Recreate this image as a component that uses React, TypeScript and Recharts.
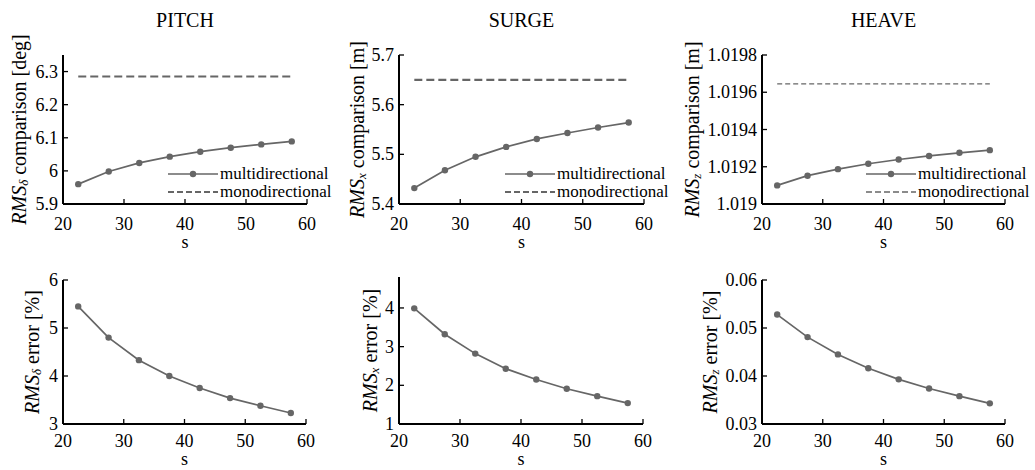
import React from "react";
import { LineChart, Line, XAxis, YAxis, Legend } from "recharts";

// wave spreading parameter s
const sValues = [22.5, 27.5, 32.5, 37.5, 42.5, 47.5, 52.5, 57.5];
const xTicks = [20, 30, 40, 50, 60];
const seriesNames = ["multidirectional", "monodirectional"];
const titles = ["PITCH", "SURGE", "HEAVE"];

// RMS comparison (top row)
const pitchMulti = [5.96, 5.998, 6.024, 6.043, 6.058, 6.07, 6.08, 6.089];
const pitchMono = [6.285, 6.285, 6.285, 6.285, 6.285, 6.285, 6.285, 6.285];
const surgeMulti = [5.432, 5.468, 5.495, 5.515, 5.531, 5.543, 5.554, 5.564];
const surgeMono = [5.65, 5.65, 5.65, 5.65, 5.65, 5.65, 5.65, 5.65];
const heaveMulti = [1.0191, 1.019152, 1.019187, 1.019216, 1.019239, 1.019258, 1.019275, 1.019289];
const heaveMono = [1.019645, 1.019645, 1.019645, 1.019645, 1.019645, 1.019645, 1.019645, 1.019645];

// RMS error in % (bottom row)
const pitchError = [5.45, 4.8, 4.33, 4.0, 3.75, 3.54, 3.38, 3.23];
const surgeError = [3.99, 3.32, 2.82, 2.43, 2.15, 1.91, 1.72, 1.54];
const heaveError = [0.0528, 0.0481, 0.0445, 0.0416, 0.0393, 0.0374, 0.0358, 0.0343];

const pitchTicks = [5.9, 6, 6.1, 6.2, 6.3];
const surgeTicks = [5.4, 5.5, 5.6, 5.7];
const heaveTicks = [1.019, 1.0192, 1.0194, 1.0196, 1.0198];
const pitchErrTicks = [3, 4, 5, 6];
const surgeErrTicks = [1, 2, 3, 4];
const heaveErrTicks = [0.03, 0.04, 0.05, 0.06];

const FONT = "Liberation Serif, DejaVu Serif, serif";
const GRAY = "#666";
const INK = "#000";
const TICK_GAP = 5;
const LEG_TOP = 165;

function YTick(props: any) {
  const { x, y, payload } = props;
  const ax = x + TICK_GAP;
  return (
    <g>
      <line x1={ax} x2={ax + 5} y1={y} y2={y} stroke={INK} strokeWidth={1.3} />
      <text x={x} y={y} textAnchor="end" dominantBaseline="central" style={{ fontFamily: FONT }} fontSize={18} fill={INK}>
        {payload.value}
      </text>
    </g>
  );
}

function XTick(props: any) {
  const { x, y, payload, gap } = props;
  return (
    <g>
      <line x1={x} x2={x} y1={y} y2={y - 5} stroke={INK} strokeWidth={1.3} />
      <text x={x} y={y + gap} textAnchor="middle" dominantBaseline="central" style={{ fontFamily: FONT }} fontSize={18} fill={INK}>
        {payload.value}
      </text>
    </g>
  );
}

function XTitle(props: any) {
  const { viewBox, dy } = props;
  return (
    <text x={viewBox.x + viewBox.width / 2} y={viewBox.y + dy} textAnchor="middle" dominantBaseline="central" style={{ fontFamily: FONT }} fontSize={18} fill={INK}>
      s
    </text>
  );
}

function YTitle(props: any) {
  const { viewBox, cx, sub, rest } = props;
  const cy = viewBox.y + viewBox.height / 2;
  return (
    <text
      transform={`rotate(-90 ${cx} ${cy})`}
      x={cx}
      y={cy}
      textAnchor="middle"
      dominantBaseline="central"
      style={{ fontFamily: FONT }}
      fontSize={20}
      fill={INK}
    >
      <tspan fontStyle="italic">RMS</tspan>
      <tspan fontStyle="italic" fontSize={13} dy={4}>{sub}</tspan>
      <tspan dy={-4}>{" " + rest}</tspan>
    </text>
  );
}

function LegendBox({ thin }: { thin: boolean }) {
  return (
    <div style={{ fontFamily: FONT, fontSize: 17, color: INK, lineHeight: "18px", whiteSpace: "nowrap" }}>
      <div style={{ display: "flex", alignItems: "center", height: 18 }}>
        <svg width={52} height={10}>
          <line x1={0} x2={50} y1={5} y2={5} stroke={GRAY} strokeWidth={1.7} />
          <circle cx={25} cy={5} r={3.2} fill={GRAY} />
        </svg>
        <span>{seriesNames[0]}</span>
      </div>
      <div style={{ display: "flex", alignItems: "center", height: 18 }}>
        <svg width={52} height={10}>
          <line x1={0} x2={50} y1={5} y2={5} stroke={GRAY} strokeWidth={thin ? 1.4 : 2} strokeDasharray="6 3" />
        </svg>
        <span>{seriesNames[1]}</span>
      </div>
    </div>
  );
}

type PanelProps = {
  left: number;
  top: number;
  width: number;
  height: number;
  plotLeft: number;
  plotTop: number;
  plotW: number;
  plotH: number;
  domain: [number, number];
  ticks: number[];
  multi: number[];
  mono?: number[];
  sub: string;
  rest: string;
  labelX: number;
  tickGap: number;
  sDy: number;
  title?: string;
  legendLeft?: number;
  thinMono?: boolean;
};

function Panel(p: PanelProps) {
  const data = sValues.map((s, i) => ({ s, multi: p.multi[i], mono: p.mono ? p.mono[i] : null }));
  const yw = p.plotLeft - p.left;
  const xh = p.height - (p.plotTop - p.top) - p.plotH;
  const axis = { stroke: INK, strokeWidth: 2 };
  return (
    <div style={{ position: "absolute", left: p.left, top: p.top, width: p.width, height: p.height }}>
      {p.title && (
        <div
          style={{
            position: "absolute",
            left: yw,
            width: p.plotW,
            top: 7,
            textAlign: "center",
            fontFamily: FONT,
            fontSize: 20,
            lineHeight: "26px",
            color: INK,
          }}
        >
          {p.title}
        </div>
      )}
      <LineChart
        width={p.width}
        height={p.height}
        data={data}
        margin={{ top: p.plotTop - p.top, right: p.width - yw - p.plotW, bottom: 0, left: 0 }}
      >
        <XAxis
          dataKey="s"
          type="number"
          domain={[20, 60]}
          ticks={xTicks}
          interval={0}
          height={xh}
          tickSize={0}
          tickMargin={0}
          tickLine={false}
          axisLine={axis}
          tick={(t: any) => <XTick {...t} gap={p.tickGap} />}
          label={<XTitle dy={p.sDy} />}
          allowDataOverflow
        />
        <YAxis
          type="number"
          domain={p.domain}
          ticks={p.ticks}
          interval={0}
          width={yw}
          tickSize={0}
          tickMargin={TICK_GAP}
          tickLine={false}
          axisLine={axis}
          tick={YTick}
          label={<YTitle cx={p.labelX - p.left} sub={p.sub} rest={p.rest} />}
          allowDataOverflow
        />
        <Line
          dataKey="multi"
          name={seriesNames[0]}
          type="linear"
          stroke={GRAY}
          strokeWidth={1.7}
          dot={{ r: 3.2, fill: GRAY, stroke: GRAY, strokeWidth: 0 }}
          isAnimationActive={false}
        />
        {p.mono && (
          <Line
            dataKey="mono"
            name={seriesNames[1]}
            type="linear"
            stroke={GRAY}
            strokeWidth={p.thinMono ? 1.4 : 2.2}
            strokeDasharray={p.thinMono ? "5 3" : "8 4"}
            dot={false}
            isAnimationActive={false}
          />
        )}
        {p.legendLeft !== undefined && (
          <Legend
            layout="vertical"
            align="center"
            verticalAlign="middle"
            wrapperStyle={{ left: p.legendLeft - p.left, top: LEG_TOP - p.top, width: "auto" }}
            content={() => <LegendBox thin={!!p.thinMono} />}
          />
        )}
      </LineChart>
    </div>
  );
}

export default function App() {
  const top = { top: 0, height: 255, plotTop: 55, plotH: 149, tickGap: 20, sDy: 38 };
  const bottom = { top: 255, height: 215, plotTop: 280, plotH: 144, tickGap: 17, sDy: 35 };
  return (
    <div style={{ position: "absolute", left: 0, top: 0, width: 1035, height: 470, background: "#fff", overflow: "hidden" }}>
      <Panel {...top} left={0} width={345} plotLeft={63} plotW={244} domain={[5.9, 6.35]} ticks={pitchTicks}
        multi={pitchMulti} mono={pitchMono} sub="δ" rest="comparison [deg]" labelX={19} title={titles[0]} legendLeft={168} />
      <Panel {...top} left={330} width={360} plotLeft={399} plotW={245} domain={[5.4, 5.7]} ticks={surgeTicks}
        multi={surgeMulti} mono={surgeMono} sub="x" rest="comparison [m]" labelX={357} title={titles[1]} legendLeft={505} />
      <Panel {...top} left={672} width={363} plotLeft={762} plotW={243} domain={[1.019, 1.0198]} ticks={heaveTicks}
        multi={heaveMulti} mono={heaveMono} sub="z" rest="comparison [m]" labelX={692} title={titles[2]} legendLeft={866} thinMono />

      <Panel {...bottom} left={0} width={345} plotLeft={63} plotW={243} domain={[3, 6]} ticks={pitchErrTicks}
        multi={pitchError} sub="δ" rest="error [%]" labelX={32} />
      <Panel {...bottom} left={330} width={360} plotLeft={399} plotW={244} plotTop={277} plotH={147} domain={[1, 4.8]} ticks={surgeErrTicks}
        multi={surgeError} sub="x" rest="error [%]" labelX={370} />
      <Panel {...bottom} left={672} width={363} plotLeft={762} plotW={243} domain={[0.03, 0.06]} ticks={heaveErrTicks}
        multi={heaveError} sub="z" rest="error [%]" labelX={710} />
    </div>
  );
}
